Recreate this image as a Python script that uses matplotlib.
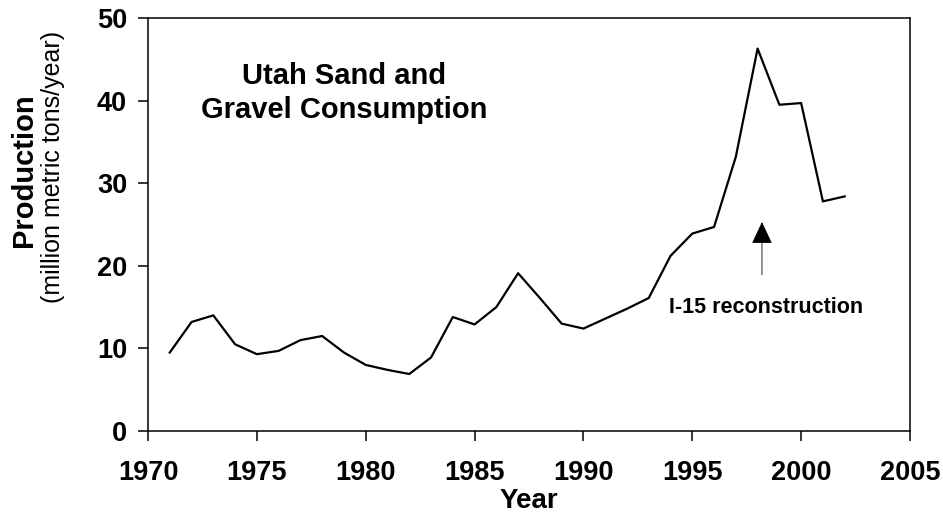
import matplotlib
matplotlib.use("Agg")
import matplotlib.pyplot as plt

plt.rcParams['font.family'] = ['Liberation Sans', 'DejaVu Sans']

years = list(range(1971, 2003))
production = [9.5, 13.2, 14.0, 10.5, 9.3, 9.7, 11.0, 11.5, 9.5, 8.0,
              7.4, 6.9, 8.9, 13.8, 12.9, 15.0, 19.1, 16.1, 13.0, 12.4,
              13.6, 14.8, 16.1, 21.2, 23.9, 24.7, 33.2, 46.3, 39.5, 39.7,
              27.8, 28.4]

title = "Utah Sand and\nGravel Consumption"
note = "I-15 reconstruction"
arrow_x = 1998.2
arrow_tail, arrow_tip = 18.9, 25.3

fig = plt.figure(figsize=(9.43, 5.14), dpi=100)
ax = fig.add_axes([148 / 943, 1 - 431 / 514, (910 - 148) / 943, (431 - 18) / 514])

ax.plot(years, production, color='black', lw=1.6)

ax.set_xlim(1970, 2005)
ax.set_ylim(0, 50)
ax.set_xticks(range(1970, 2006, 5))
ax.set_yticks(range(0, 51, 10))
ax.tick_params(direction='out', length=7, width=1.1, labelsize=19.5)
ax.tick_params(axis='x', pad=14)
ax.tick_params(axis='y', pad=8)
for lab in ax.get_xticklabels() + ax.get_yticklabels():
    lab.set_fontweight('bold')
for s in ax.spines.values():
    s.set_linewidth(1.1)

ax.set_xlabel("Year", fontsize=20, fontweight='bold', labelpad=1.5)

fig.text(24 / 943, 1 - 170 / 514, "Production", rotation=90, fontsize=21,
         fontweight='bold', ha='center', va='center')
fig.text(53 / 943, 1 - 167 / 514, "(million metric tons/year)", rotation=90,
         fontsize=18, ha='center', va='center')

ax.text(1979.0, 40.9, title, fontsize=21, fontweight='bold', ha='center',
        va='center', linespacing=1.25)

ax.annotate("", xy=(arrow_x, arrow_tip), xytext=(arrow_x, arrow_tail),
            arrowprops=dict(arrowstyle='-|>,head_length=0.7,head_width=0.33',
                            mutation_scale=20, lw=0.6, color='black',
                            shrinkA=0, shrinkB=0))
ax.text(1998.4, 14.9, note, fontsize=15.5, fontweight='bold', ha='center',
        va='center')

fig.savefig("out.png", dpi=100)
